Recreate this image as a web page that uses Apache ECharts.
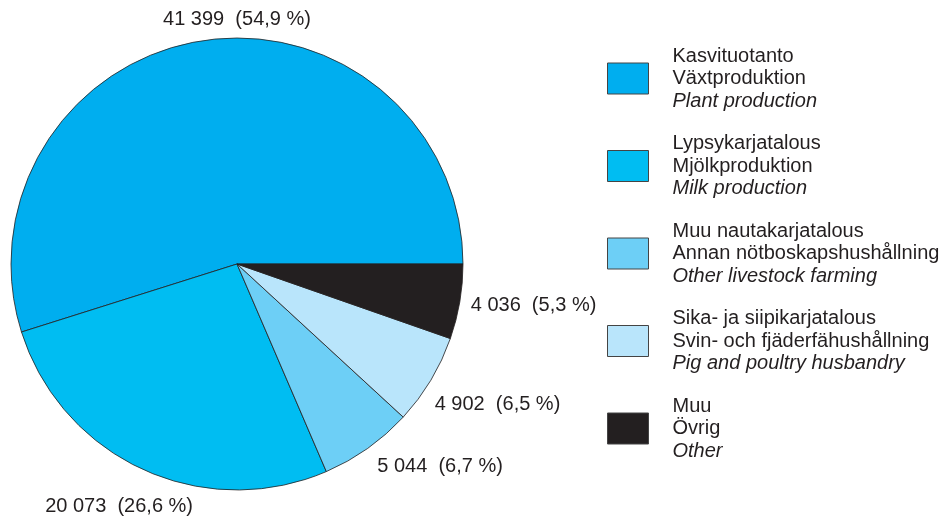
<!DOCTYPE html>
<html>
<head>
<meta charset="utf-8">
<script src="https://cdn.jsdelivr.net/npm/echarts@6/dist/echarts.min.js"></script>
<style>
html, body { margin: 0; padding: 0; background: #fff; }
#chart { width: 951px; height: 517px; }
</style>
</head>
<body>
<div id="chart"></div>
<script>
// tuotantosuunnat
const namesFi = ['Kasvituotanto', 'Lypsykarjatalous', 'Muu nautakarjatalous', 'Sika- ja siipikarjatalous', 'Muu'];
const namesSv = ['Växtproduktion', 'Mjölkproduktion', 'Annan nötboskapshushållning', 'Svin- och fjäderfähushållning', 'Övrig'];
const namesEn = ['Plant production', 'Milk production', 'Other livestock farming', 'Pig and poultry husbandry', 'Other'];
const values = [41399, 20073, 5044, 4902, 4036];
const colors = ['#00aeef', '#00bdf2', '#6dcff6', '#b9e5fb', '#231f20'];

const total = values.reduce((a, b) => a + b, 0);
const font = 'Liberation Sans, Arial, sans-serif';

function fmtNum(v) {
    return String(v).replace(/\B(?=(\d{3})+(?!\d))/g, ' ');
}

const chart = echarts.init(document.getElementById('chart'));
chart.setOption({
    animation: false,
    backgroundColor: '#fff',
    legend: {
        orient: 'vertical',
        left: 607,
        top: 46,
        padding: 0,
        itemWidth: 41,
        itemHeight: 31,
        itemGap: 22.5,
        icon: 'rect',
        itemStyle: { borderColor: '#444', borderWidth: 1 },
        selectedMode: false,
        formatter: function (name) {
            const i = namesFi.indexOf(name);
            return '{a|' + namesFi[i] + '}\n{a|' + namesSv[i] + '}\n{i|' + namesEn[i] + '}';
        },
        textStyle: {
            padding: [0, 0, 0, 19],
            rich: {
                a: { fontFamily: font, fontSize: 20, color: '#231f20', lineHeight: 22.5 },
                i: { fontFamily: font, fontSize: 20, color: '#231f20', lineHeight: 22.5, fontStyle: 'italic' }
            }
        }
    },
    series: [{
        type: 'pie',
        center: [237, 264],
        radius: 226,
        startAngle: 0,
        clockwise: false,
        avoidLabelOverlap: false,
        itemStyle: { borderColor: '#231f20', borderWidth: 0.8 },
        label: {
            position: 'outside',
            fontFamily: font,
            fontSize: 20,
            color: '#231f20',
            formatter: function (p) {
                const pct = (p.value / total * 100).toFixed(1).replace('.', ',');
                return fmtNum(p.value) + '  (' + pct + ' %)';
            }
        },
        labelLine: { show: false, length: 8, length2: 0 },
        labelLayout: function (p) {
            if (p.dataIndex === 0) {
                return { x: p.rect.x + p.rect.width / 2, y: p.rect.y - 18, align: 'center', verticalAlign: 'middle' };
            }
            if (p.dataIndex === 1) {
                return { x: p.rect.x + 98, y: p.rect.y + p.rect.height + 16, align: 'center', verticalAlign: 'middle' };
            }
            if (p.dataIndex === 2) return { dy: 12 };
            if (p.dataIndex === 3) return { dx: -8, dy: 20 };
            return { dx: -2, dy: 2 };
        },
        data: namesFi.map((n, i) => ({ name: n, value: values[i], itemStyle: { color: colors[i] } }))
    }]
});
</script>
</body>
</html>
